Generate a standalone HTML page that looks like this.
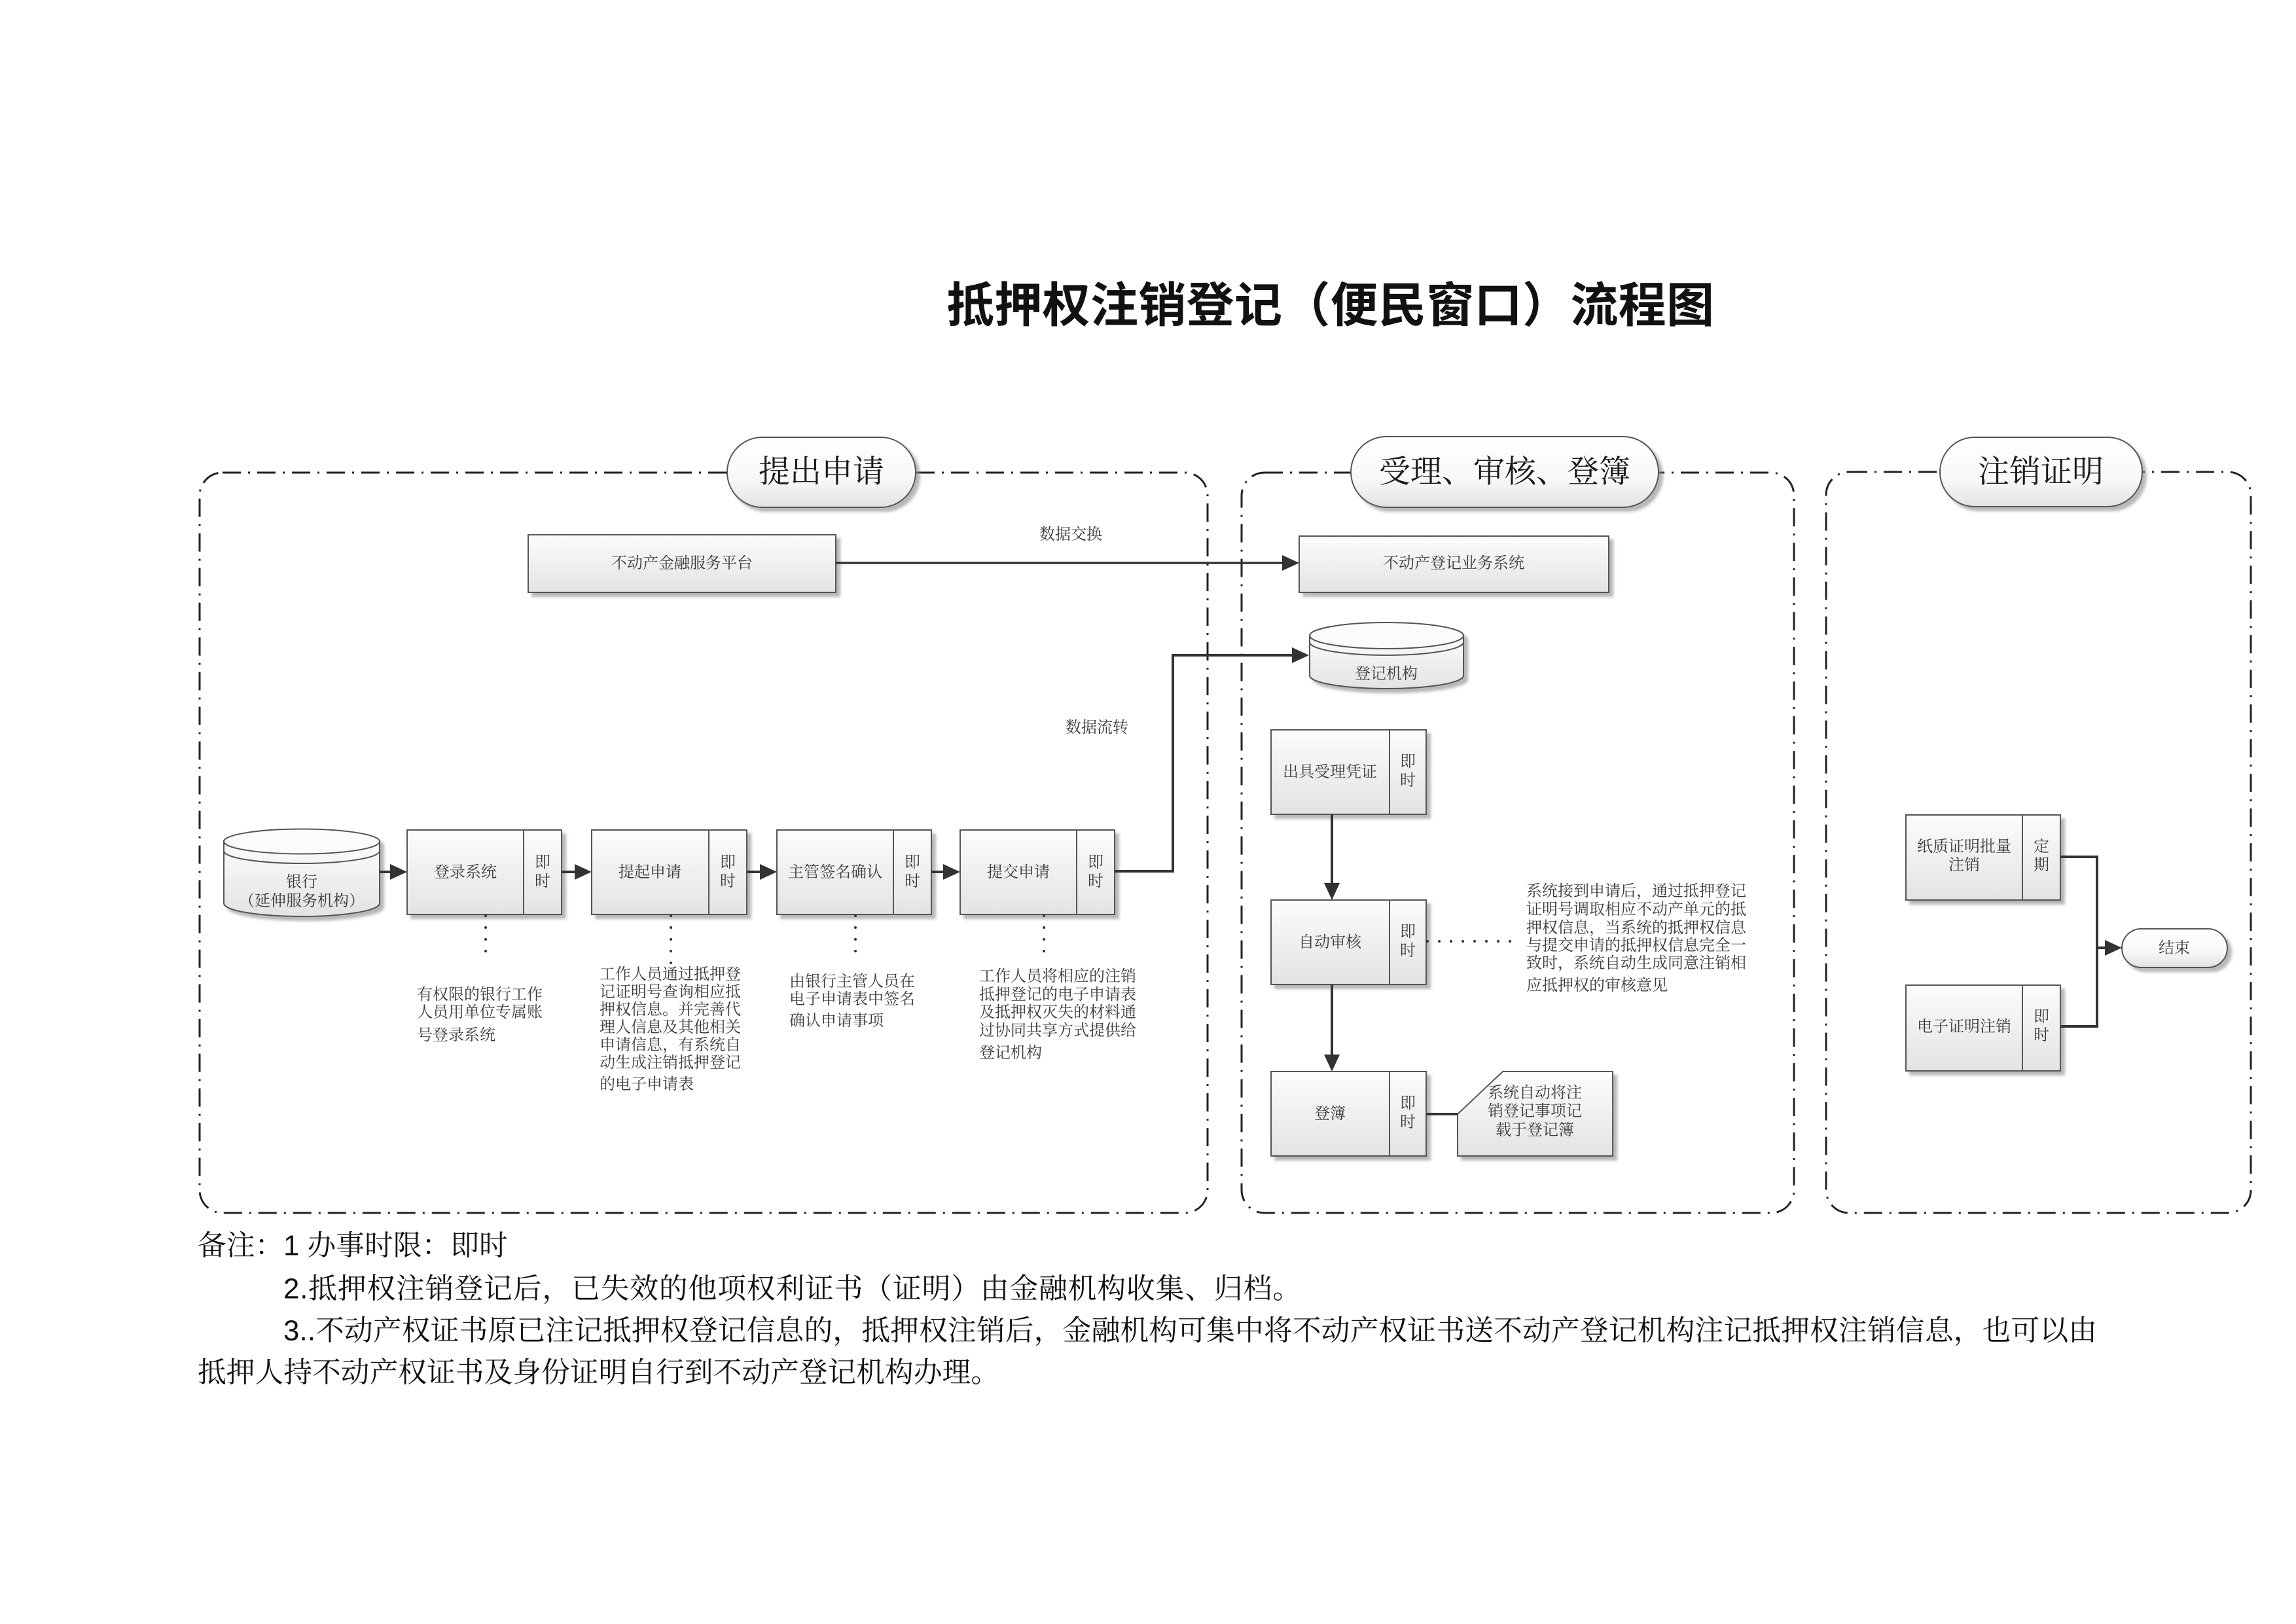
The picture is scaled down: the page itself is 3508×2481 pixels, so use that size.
<!DOCTYPE html>
<html><head><meta charset="utf-8"><style>html,body{margin:0;padding:0;background:#fff}svg{display:block}</style></head><body>
<svg xmlns="http://www.w3.org/2000/svg" width="3508" height="2481" viewBox="0 0 3508 2481">
<defs>
<linearGradient id="gb" x1="0" y1="0" x2="0" y2="1"><stop offset="0" stop-color="#fcfcfc"/><stop offset="1" stop-color="#e3e3e3"/></linearGradient>
<linearGradient id="gp" x1="0" y1="0" x2="0" y2="1"><stop offset="0" stop-color="#ffffff"/><stop offset="0.6" stop-color="#f8f8f8"/><stop offset="1" stop-color="#e2e2e2"/></linearGradient>
<filter id="sh" x="-10%" y="-10%" width="130%" height="150%"><feDropShadow dx="6" dy="6" stdDeviation="2" flood-color="#888" flood-opacity="0.6"/></filter>
</defs>
<rect width="3508" height="2481" fill="#fff"/>

<!-- Title -->
<text x="1446" y="467" dominant-baseline="central" font-family="'Liberation Sans','Noto Sans CJK SC',sans-serif" font-weight="bold" font-size="73" fill="#111" textLength="1173" lengthAdjust="spacing">抵押权注销登记（便民窗口）流程图</text>

<!-- Frames -->
<g fill="none" stroke="#222" stroke-width="3" stroke-dasharray="28 11 3 11">
<path d="M340 722 H1810 A35 35 0 0 1 1845 757 V1818 A35 35 0 0 1 1810 1853 H340 A35 35 0 0 1 305 1818 V757 A35 35 0 0 1 340 722 Z"/>
<path d="M1932 722 H2706 A35 35 0 0 1 2741 757 V1818 A35 35 0 0 1 2706 1853 H1932 A35 35 0 0 1 1897 1818 V757 A35 35 0 0 1 1932 722 Z"/>
<path d="M2825 721 H3404 A35 35 0 0 1 3439 756 V1818 A35 35 0 0 1 3404 1853 H2825 A35 35 0 0 1 2790 1818 V756 A35 35 0 0 1 2825 721 Z"/>
</g>

<!-- Pills -->
<g filter="url(#sh)" fill="url(#gp)" stroke="#555" stroke-width="2">
<rect x="1111" y="668" width="288" height="107" rx="53.5" ry="53.5"/>
<rect x="2064" y="667" width="470" height="108" rx="54" ry="54"/>
<rect x="2964" y="668" width="309" height="106" rx="53" ry="53"/>
</g>
<g font-family="'Liberation Serif','Noto Serif CJK SC',serif" font-size="48" fill="#1a1a1a" text-anchor="middle" dominant-baseline="central">
<text x="1255" y="721">提出申请</text>
<text x="2299" y="721">受理、审核、登簿</text>
<text x="3118" y="721">注销证明</text>
</g>

<!-- Boxes -->
<g filter="url(#sh)" fill="url(#gb)" stroke="#555" stroke-width="2">
<rect x="807" y="817" width="470" height="88"/>
<rect x="1985" y="819" width="473" height="86"/>
<rect x="622" y="1268" width="236" height="129"/>
<rect x="904" y="1268" width="237" height="129"/>
<rect x="1187" y="1268" width="236" height="129"/>
<rect x="1467" y="1268" width="236" height="129"/>
<rect x="1942" y="1115" width="237" height="129"/>
<rect x="1942" y="1375" width="237" height="129"/>
<rect x="1942" y="1637" width="237" height="129"/>
<rect x="2912" y="1245" width="236" height="130"/>
<rect x="2912" y="1505" width="236" height="131"/>
<polygon points="2296,1637 2464,1637 2464,1766 2227,1766 2227,1702"/>
<rect x="3242" y="1419" width="161" height="59" rx="29.5" ry="29.5" fill="url(#gp)"/>
</g>
<g stroke="#555" stroke-width="2">
<line x1="800" y1="1268" x2="800" y2="1397"/>
<line x1="1083" y1="1268" x2="1083" y2="1397"/>
<line x1="1365" y1="1268" x2="1365" y2="1397"/>
<line x1="1645" y1="1268" x2="1645" y2="1397"/>
<line x1="2123" y1="1115" x2="2123" y2="1244"/>
<line x1="2123" y1="1375" x2="2123" y2="1504"/>
<line x1="2123" y1="1637" x2="2123" y2="1766"/>
<line x1="3090" y1="1245" x2="3090" y2="1375"/>
<line x1="3090" y1="1505" x2="3090" y2="1636"/>
</g>

<!-- Cylinders -->
<g filter="url(#sh)" stroke="#555" stroke-width="2">
<path d="M342 1285 V1380 A119 20 0 0 0 580 1380 V1285 Z" fill="url(#gb)"/>
<ellipse cx="461" cy="1285.5" rx="119" ry="19" fill="#fbfbfb"/>
<path d="M2001 971 V1032 A117.5 20 0 0 0 2236 1032 V971 Z" fill="url(#gb)"/>
<ellipse cx="2118.5" cy="971" rx="117.5" ry="20" fill="#fbfbfb"/>
</g>
<g fill="none" stroke="#555" stroke-width="2">
<path d="M342 1300 A119 19 0 0 0 580 1300"/>
<path d="M2001 981 A117.5 20 0 0 0 2236 981"/>
</g>

<!-- Connectors -->
<g stroke="#333" stroke-width="4" fill="none">
<line x1="1277" y1="860" x2="1962" y2="860" stroke-width="3.5"/>
<line x1="580" y1="1332" x2="598" y2="1332"/>
<line x1="858" y1="1332" x2="880" y2="1332"/>
<line x1="1141" y1="1332" x2="1163" y2="1332"/>
<line x1="1423" y1="1332" x2="1443" y2="1332"/>
<polyline points="1703,1331 1792,1331 1792,1001 1976,1001"/>
<line x1="2035" y1="1244" x2="2035" y2="1351"/>
<line x1="2035" y1="1504" x2="2035" y2="1613"/>
<line x1="2179" y1="1702" x2="2227" y2="1702"/>
<polyline points="3148,1309 3204,1309 3204,1568 3148,1568"/>
<line x1="3204" y1="1448" x2="3220" y2="1448"/>
</g>
<g fill="#333">
<polygon points="1985,860 1959,848 1959,872"/>
<polygon points="622,1332 596,1320 596,1344"/>
<polygon points="904,1332 878,1320 878,1344"/>
<polygon points="1187,1332 1161,1320 1161,1344"/>
<polygon points="1467,1332 1441,1320 1441,1344"/>
<polygon points="2000,1001 1974,989 1974,1013"/>
<polygon points="2035,1375 2023,1349 2047,1349"/>
<polygon points="2035,1637 2023,1611 2047,1611"/>
<polygon points="3242,1448 3216,1436 3216,1460"/>
</g>

<!-- Dotted lines -->
<g stroke="#333" stroke-width="4" stroke-linecap="round" stroke-dasharray="0 18" fill="none">
<line x1="742" y1="1399" x2="742" y2="1471"/>
<line x1="1025" y1="1399" x2="1025" y2="1474"/>
<line x1="1307" y1="1399" x2="1307" y2="1455"/>
<line x1="1595" y1="1399" x2="1595" y2="1455"/>
<line x1="2181" y1="1438" x2="2325" y2="1438"/>
</g>

<!-- Diagram text -->
<g font-family="'Liberation Serif','Noto Serif CJK SC',serif" font-size="24" fill="#3a3a3a" dominant-baseline="central">
<g text-anchor="middle">
<text x="1042" y="861">不动产金融服务平台</text>
<text x="2221" y="861">不动产登记业务系统</text>
<text x="1636" y="817">数据交换</text>
<text x="1676" y="1112">数据流转</text>
<text x="461" y="1348">银行</text>
<text x="461" y="1377">（延伸服务机构）</text>
<text x="2118" y="1030">登记机构</text>
<text x="711" y="1333">登录系统</text>
<text x="829" y="1318">即</text><text x="829" y="1347">时</text>
<text x="993" y="1333">提起申请</text>
<text x="1112" y="1318">即</text><text x="1112" y="1347">时</text>
<text x="1276" y="1333">主管签名确认</text>
<text x="1394" y="1318">即</text><text x="1394" y="1347">时</text>
<text x="1556" y="1333">提交申请</text>
<text x="1674" y="1318">即</text><text x="1674" y="1347">时</text>
<text x="2032" y="1180">出具受理凭证</text>
<text x="2151" y="1164">即</text><text x="2151" y="1193">时</text>
<text x="2032" y="1440">自动审核</text>
<text x="2151" y="1424">即</text><text x="2151" y="1453">时</text>
<text x="2032" y="1702">登簿</text>
<text x="2151" y="1686">即</text><text x="2151" y="1715">时</text>
<text x="2345" y="1670">系统自动将注</text>
<text x="2345" y="1698">销登记事项记</text>
<text x="2345" y="1727">载于登记簿</text>
<text x="3001" y="1294">纸质证明批量</text>
<text x="3001" y="1322">注销</text>
<text x="3119" y="1294">定</text><text x="3119" y="1322">期</text>
<text x="3001" y="1569">电子证明注销</text>
<text x="3119" y="1554">即</text><text x="3119" y="1582">时</text>
<text x="3322" y="1449">结束</text>
</g>
<text x="637" y="1520">有权限的银行工作</text>
<text x="637" y="1547">人员用单位专属账</text>
<text x="637" y="1582">号登录系统</text>
<text x="916" y="1489">工作人员通过抵押登</text>
<text x="916" y="1516">记证明号查询相应抵</text>
<text x="916" y="1543">押权信息。并完善代</text>
<text x="916" y="1570">理人信息及其他相关</text>
<text x="916" y="1597">申请信息，有系统自</text>
<text x="916" y="1624">动生成注销抵押登记</text>
<text x="916" y="1657">的电子申请表</text>
<text x="1206" y="1500">由银行主管人员在</text>
<text x="1206" y="1527">电子申请表中签名</text>
<text x="1206" y="1560">确认申请事项</text>
<text x="1496" y="1492">工作人员将相应的注销</text>
<text x="1496" y="1520">抵押登记的电子申请表</text>
<text x="1496" y="1547">及抵押权灭失的材料通</text>
<text x="1496" y="1575">过协同共享方式提供给</text>
<text x="1496" y="1609">登记机构</text>
<text x="2332" y="1362">系统接到申请后，通过抵押登记</text>
<text x="2332" y="1390">证明号调取相应不动产单元的抵</text>
<text x="2332" y="1418">押权信息，当系统的抵押权信息</text>
<text x="2332" y="1445">与提交申请的抵押权信息完全一</text>
<text x="2332" y="1472">致时，系统自动生成同意注销相</text>
<text x="2332" y="1506">应抵押权的审核意见</text>
</g>

<!-- Notes -->
<g font-family="'Liberation Sans','Noto Serif CJK SC',serif" font-size="43.75" fill="#111" dominant-baseline="central">
<text x="302" y="1903">备注：</text>
<text x="433" y="1903">1 办事时限：即时</text>
<text x="433" y="1969" textLength="1555" lengthAdjust="spacing">2.抵押权注销登记后，已失效的他项权利证书（证明）由金融机构收集、归档。</text>
<text x="433" y="2033" textLength="2771" lengthAdjust="spacing">3..不动产权证书原已注记抵押权登记信息的，抵押权注销后，金融机构可集中将不动产权证书送不动产登记机构注记抵押权注销信息，也可以由</text>
<text x="302" y="2097">抵押人持不动产权证书及身份证明自行到不动产登记机构办理。</text>
</g>
</svg>
</body></html>
